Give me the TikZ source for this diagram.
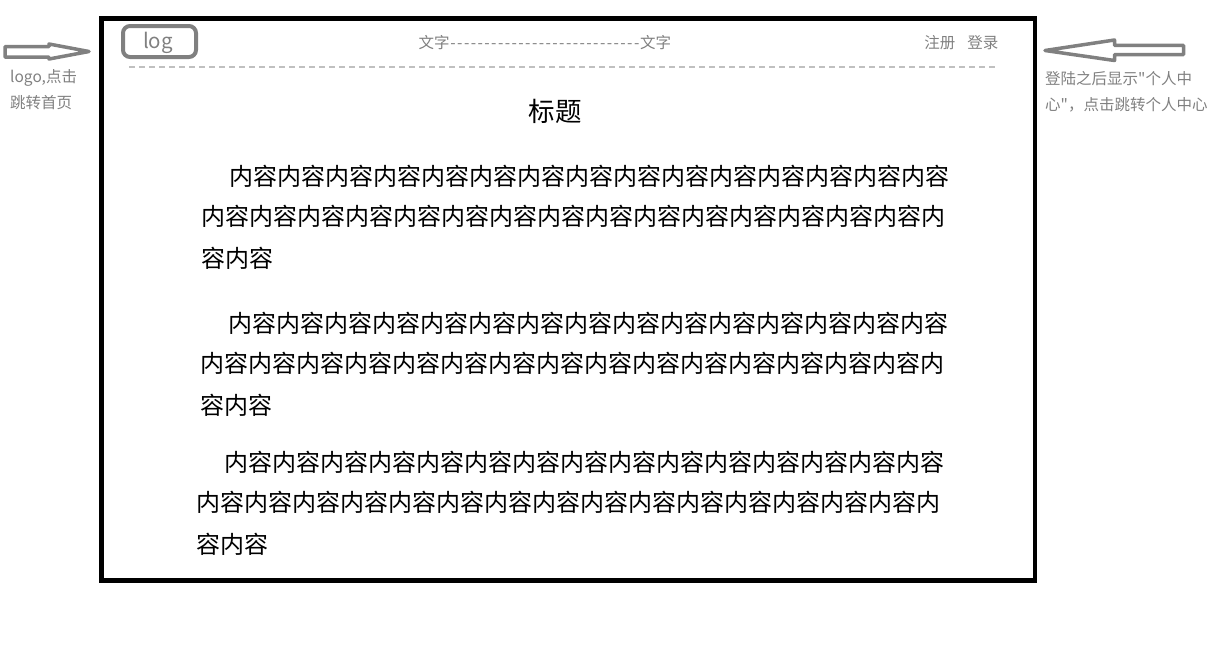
\documentclass[tikz,border=0pt]{standalone}
\usepackage{fontspec}
\setmainfont{Noto Sans CJK SC}[Ligatures=TeXOff]
\definecolor{notegray}{HTML}{808080}
\definecolor{rulegray}{HTML}{C0C0C0}
\newcommand{\neirong}[1]{\foreach \i in {1,...,#1}{内容}}
\newcommand{\dashrun}[1]{\foreach \i in {1,...,#1}{\makebox[6.8pt]{-}}}
\begin{document}
\begin{tikzpicture}[x=1pt,y=-1pt,
    every node/.style={inner sep=0pt},
    note/.style={anchor=base west,text=notegray,font=\fontsize{15.5}{15.5}\selectfont},
    headtext/.style={text=notegray,font=\fontsize{15.5}{15.5}\selectfont},
    body/.style={anchor=base west,font=\fontsize{24}{24}\selectfont},
    hint/.style={draw=notegray,line width=3.5pt,line join=round}]
    \useasboundingbox (0,0) rectangle (1217,648);
    \draw [line width=4.5pt] (101.5,18.5) rectangle (1035,580.5);
    \draw [notegray,line width=4pt,rounded corners=7pt] (123,26) rectangle (196,57);
    \node [headtext,anchor=base,font=\fontsize{20.5}{20.5}\selectfont] (logo) at (158,48) {log};
    \node [headtext,anchor=base west] (nav) at (418.5,48) {文字\dashrun{28}文字};
    \node [headtext,anchor=base east] (login) at (998.5,48.5) {注册\hspace{12pt}登录};
    \draw [rulegray,line width=2pt,dash pattern=on 6pt off 4pt] (129,66.5) -- (997,66.5);
    \node [anchor=base,font=\fontsize{26.5}{26.5}\selectfont] (title) at (555,121) {标题};
    \foreach \y/\x [count=\k] in {185/201.5, 332/200, 471/196} {
        \node [body] (para\k-1) at (\x+28,\y) {\neirong{15}};
        \node [body] (para\k-2) at (\x,\y+40.5) {\neirong{15}内};
        \node [body] (para\k-3) at (\x,\y+82) {容内容};
    }
    \draw [hint] (5,46.5) -- (49,46.5) -- (49,44) -- (89,51.5) -- (49,59) -- (49,57) -- (5,57) -- cycle;
    \node [note] (lefttip1) at (10,82) {logo,点击};
    \node [note] (lefttip2) at (10,108) {跳转首页};
    \draw [hint] (1045,50.5) -- (1114.5,40) -- (1114.5,45.3) -- (1183.5,45.3) -- (1183.5,54.7) -- (1114.5,54.7) -- (1114.5,60.5) -- cycle;
    \node [note] (righttip1) at (1045,84) {登陆之后显示"个人中};
    \node [note] (righttip2) at (1045,110) {心"，点击跳转个人中心};
\end{tikzpicture}
\end{document}
